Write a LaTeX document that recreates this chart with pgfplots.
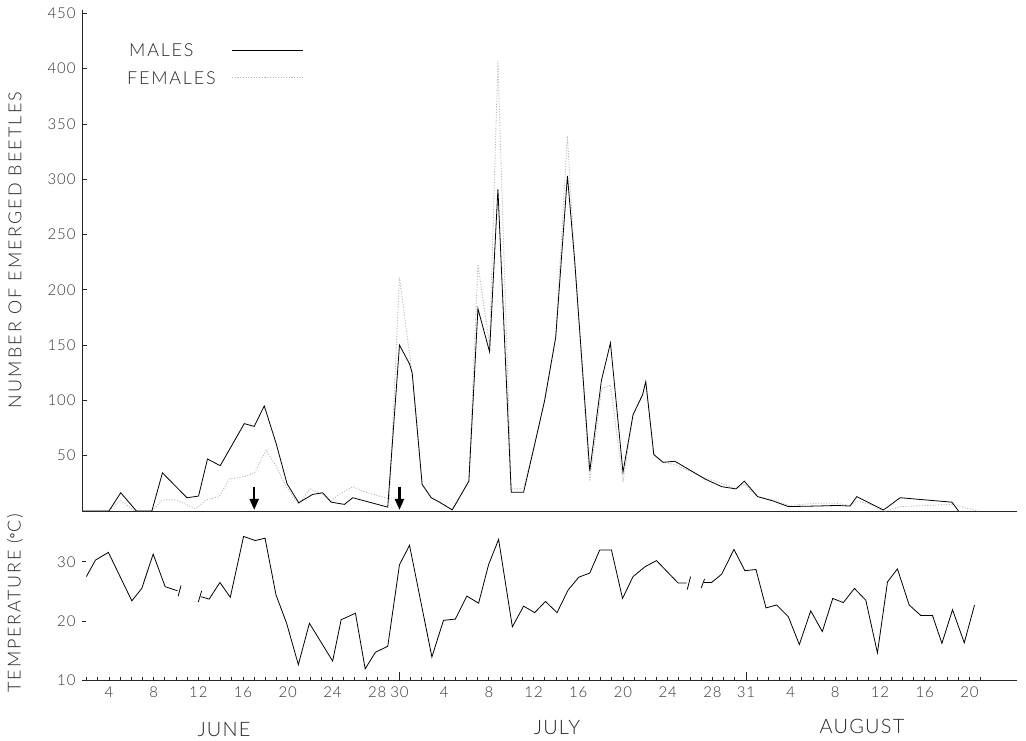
\documentclass[border=0pt]{standalone}
\usepackage{pgfplots}
\pgfplotsset{compat=1.18}
\usepackage{fontspec}
\setmainfont{Lato Light}
\usetikzlibrary{arrows.meta}
\newcommand\tk{\fontsize{15}{15}\selectfont\addfontfeatures{LetterSpace=6}}
\newcommand\lb{\fontsize{18}{18}\selectfont\addfontfeatures{LetterSpace=10}}
\newcommand\lbt{\fontsize{18}{18}\selectfont\addfontfeatures{LetterSpace=12}}
\newcommand\mo{\fontsize{20}{20}\selectfont\addfontfeatures{LetterSpace=6}}

\pgfplotstableread{
x y
1.59 0
4.0 0
5.06 16.5
6.46 0
7.84 0
8.79 34.5
10.98 12
12.02 13.5
12.82 47
13.96 41
16.11 79
17.0 76.5
17.9 95
18.95 61.5
19.94 24.6
20.98 7.5
22.23 15
23.13 16.5
23.88 8
25.07 6
25.82 12
28.95 3.5
30.0 150
30.9 133
31.14 124.5
32.03 24
32.84 12
33.58 8
34.72 1
36.21 27
37.02 183
38.06 144
38.81 291
40.0 17
41.11 17
42.25 67
42.99 100
43.98 157
45.03 303
45.68 226
47.03 36
48.07 118
48.88 152
50.0 35
50.9 87
51.75 105
52.04 117
52.76 51
53.59 44
54.64 45
57.33 29
58.83 22
60.11 20
60.86 27
62.05 13
63.45 9
64.8 4
67.34 4.5
69.13 5
70.32 4.5
70.92 13
72.11 7
73.3 1
73.6 3
74.8 12
79.43 8
80.03 0
}\males

\pgfplotstableread{
x y
1.59 0
4.0 0
5.0 10
6.3 0
7.84 0
8.8 10
10.0 10
11.78 2
12.68 10
13.87 13
14.77 29
16.11 31
17.0 34
18.06 55
18.95 41
19.8 23
20.98 6
22.0 20
23.13 15
23.88 9
24.6 15
25.82 22
27.0 17
29.1 11
30.0 211
31.14 124
32.03 24
32.84 12
33.58 8
34.72 1
36.21 27
37.02 223
38.06 150
38.81 407
40.0 20
41.11 20
42.25 67
42.99 100
43.98 157
45.03 339
45.68 226
47.03 27
48.07 110
48.88 114
50.0 26
50.9 87
51.75 105
52.04 117
52.76 51
53.59 44
54.64 42
57.33 30
58.83 25
60.11 20
60.86 24
62.05 13
63.45 10
64.8 5
67.34 7
69.13 7
70.32 5
70.92 9
72.11 6
73.3 0
73.6 0
74.8 4
79.43 6
81.8 0
}\females

\pgfplotstableread{
x y
1.98 27.5
2.8 30.3
3.95 31.6
5.0 27.5
6.05 23.4
6.94 25.5
7.96 31.3
9.03 25.8
10.13 25.1
nan nan
12.23 24.1
12.97 23.7
13.93 26.5
14.86 24.0
16.05 34.3
17.1 33.6
17.97 34.0
18.95 24.4
19.9 19.6
20.95 12.6
21.94 19.6
24.02 13.2
24.78 20.2
26.06 21.3
26.93 11.9
27.85 14.7
28.95 15.7
30.0 29.5
30.9 32.8
32.9 13.9
33.94 20.1
34.99 20.3
36.03 24.2
37.08 23.0
37.97 29.5
38.87 33.8
40.1 19.0
41.11 22.5
42.1 21.4
43.06 23.3
44.1 21.4
45.08 25.2
46.04 27.4
47.03 28.1
47.92 32.0
48.97 32.0
49.96 23.8
50.9 27.5
52.0 29.2
53.0 30.2
54.94 26.4
55.69 26.4
nan nan
57.24 26.5
57.93 26.5
58.83 27.9
59.93 32.1
60.91 28.5
61.9 28.7
62.8 22.2
63.75 22.7
64.8 20.7
65.78 16.0
66.8 21.7
67.84 18.2
68.77 23.8
69.72 23.1
70.71 25.5
71.73 23.5
72.77 14.6
73.67 26.6
74.56 28.8
75.61 22.7
76.66 20.9
77.7 20.9
78.54 16.2
79.49 21.9
80.54 16.3
81.46 22.7
}\temps

\begin{document}
\begin{tikzpicture}
\path[use as bounding box] (0,0) rectangle (1026bp,-741bp);

% ---------- top panel: beetles ----------
\begin{axis}[
  at={(82bp,-511bp)}, anchor=south west,
  scale only axis, width=935bp, height=501bp,
  xmin=1.59, xmax=85.26, ymin=0, ymax=453,
  axis lines=left, axis line style={-, line width=0.8bp, black!85},
  xtick=\empty,
  ytick={50,100,...,450},
  tick align=inside, major tick length=5bp,
  tick style={line width=0.8bp, black!85},
  yticklabel style={font=\tk, text=black!80, xshift=-3bp},
  /pgf/number format/assume math mode=true,
  clip=false,
]
\addplot[gray!55, line width=0.9bp, dash pattern=on 1.1bp off 1.6bp] table[x=x,y=y] {\females};
\addplot[black, line width=0.8bp] table[x=x,y=y] {\males};
\draw[-{Triangle[width=9bp,length=11bp]}, line width=2.2bp] (axis cs:17,22) -- (axis cs:17,1);
\draw[-{Triangle[width=9bp,length=11bp]}, line width=2.2bp] (axis cs:30,22) -- (axis cs:30,1);
\end{axis}

% ---------- bottom panel: temperature ----------
\begin{axis}[
  at={(82bp,-680bp)}, anchor=south west,
  scale only axis, width=935bp, height=169bp,
  xmin=1.59, xmax=85.26, ymin=10, ymax=38.6,
  axis x line=bottom, axis y line=left,
  x axis line style={-, line width=0.8bp, black!85},
  y axis line style={draw=none},
  xtick={4,8,12,16,20,24,28,30,34,38,42,46,50,54,58,61,65,69,73,77,81},
  xticklabels={4,8,12,16,20,24,28,30,4,8,12,16,20,24,28,31,4,8,12,16,20},
  minor xtick={2,3,...,82},
  extra x ticks={30,61}, extra x tick labels={},
  extra x tick style={major tick length=8bp},
  ytick={10,20,30},
  tick align=inside, major tick length=3.5bp, minor tick length=3.5bp,
  tick style={line width=0.8bp, black!85},
  xticklabel style={font=\tk, text=black!80, yshift=-3bp},
  yticklabel style={font=\tk, text=black!80, xshift=-3bp},
  /pgf/number format/assume math mode=true,
  unbounded coords=jump,
  clip=false,
]
\addplot[black, line width=0.8bp] table[x=x,y=y] {\temps};
\draw[black, line width=0.8bp] (axis cs:10.2,24.2) -- (axis cs:10.45,26.0);
\draw[black, line width=0.8bp] (axis cs:12.0,23.2) -- (axis cs:12.3,25.1);
\draw[black, line width=0.8bp] (axis cs:55.75,25.3) -- (axis cs:56.05,27.5);
\draw[black, line width=0.8bp] (axis cs:57.0,25.6) -- (axis cs:57.3,27.1);
\end{axis}

% ---------- legend ----------
\draw[black, line width=0.8bp] (232bp,-50bp) -- (303bp,-50bp);
\node[anchor=west, inner sep=0pt, text=black!85] at (129bp,-50bp) {\lb MALES};
\draw[gray!55, line width=0.9bp, dash pattern=on 1.1bp off 1.6bp] (232bp,-77.3bp) -- (303bp,-77.3bp);
\node[anchor=west, inner sep=0pt, text=black!85] at (127bp,-78.5bp) {\lb FEMALES};

% ---------- axis titles ----------
\node[rotate=90, inner sep=0pt, text=black!85] at (15bp,-250bp) {\lbt NUMBER OF EMERGED BEETLES};
\node[rotate=90, inner sep=0pt, text=black!85] at (15bp,-603bp) {\lb TEMPERATURE ({\fontspec{DejaVu Sans}\fontsize{14}{14}\selectfont °}C)};

% ---------- months ----------
\node[inner sep=0pt, text=black!85] at (224bp,-730bp) {\mo JUNE};
\node[inner sep=0pt, text=black!85] at (557bp,-728bp) {\mo JULY};
\node[inner sep=0pt, text=black!85] at (862bp,-726bp) {\mo AUGUST};
\end{tikzpicture}
\end{document}
